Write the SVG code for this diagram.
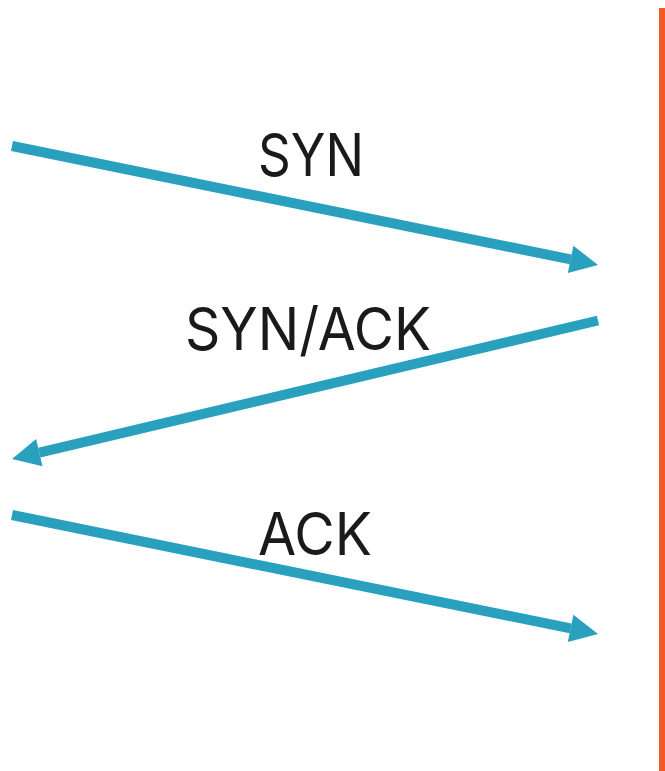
<svg xmlns="http://www.w3.org/2000/svg" width="665" height="771" viewBox="0 0 665 771">
  <style>
    .msg { stroke: #2aa0bf; stroke-width: 10; fill: none; marker-end: url(#head); }
    .label { font-family: Inter, "Liberation Sans", sans-serif; font-size: 59px; fill: #1a1a1a; text-anchor: middle; }
  </style>
  <defs>
    <marker id="head" markerUnits="userSpaceOnUse" viewBox="0 0 28 28" markerWidth="28" markerHeight="28" refX="0" refY="14" orient="auto" overflow="visible">
      <path d="M0,0 L28,14 L0,28 z" fill="#2aa0bf"/>
    </marker>
  </defs>
  <rect width="665" height="771" fill="#ffffff"/>
  <!-- server timeline -->
  <g id="server">
    <rect x="659" y="8" width="6" height="763" fill="#f05a28"/>
  </g>
  <g id="connectors">
    <line class="msg" x1="12" y1="146" x2="570.6" y2="259.4"/>
    <line class="msg" x1="598" y1="320.5" x2="39.3" y2="452.6"/>
    <line class="msg" x1="12" y1="515" x2="570.6" y2="628.4"/>
  </g>
  <g id="label-syn"><text class="label" x="311" y="176" textLength="106" lengthAdjust="spacingAndGlyphs">SYN</text></g>
  <g id="label-synack"><text class="label" x="308" y="350" textLength="246" lengthAdjust="spacingAndGlyphs">SYN/ACK</text></g>
  <g id="label-ack"><text class="label" x="315" y="555" textLength="114" lengthAdjust="spacingAndGlyphs">ACK</text></g>
</svg>
